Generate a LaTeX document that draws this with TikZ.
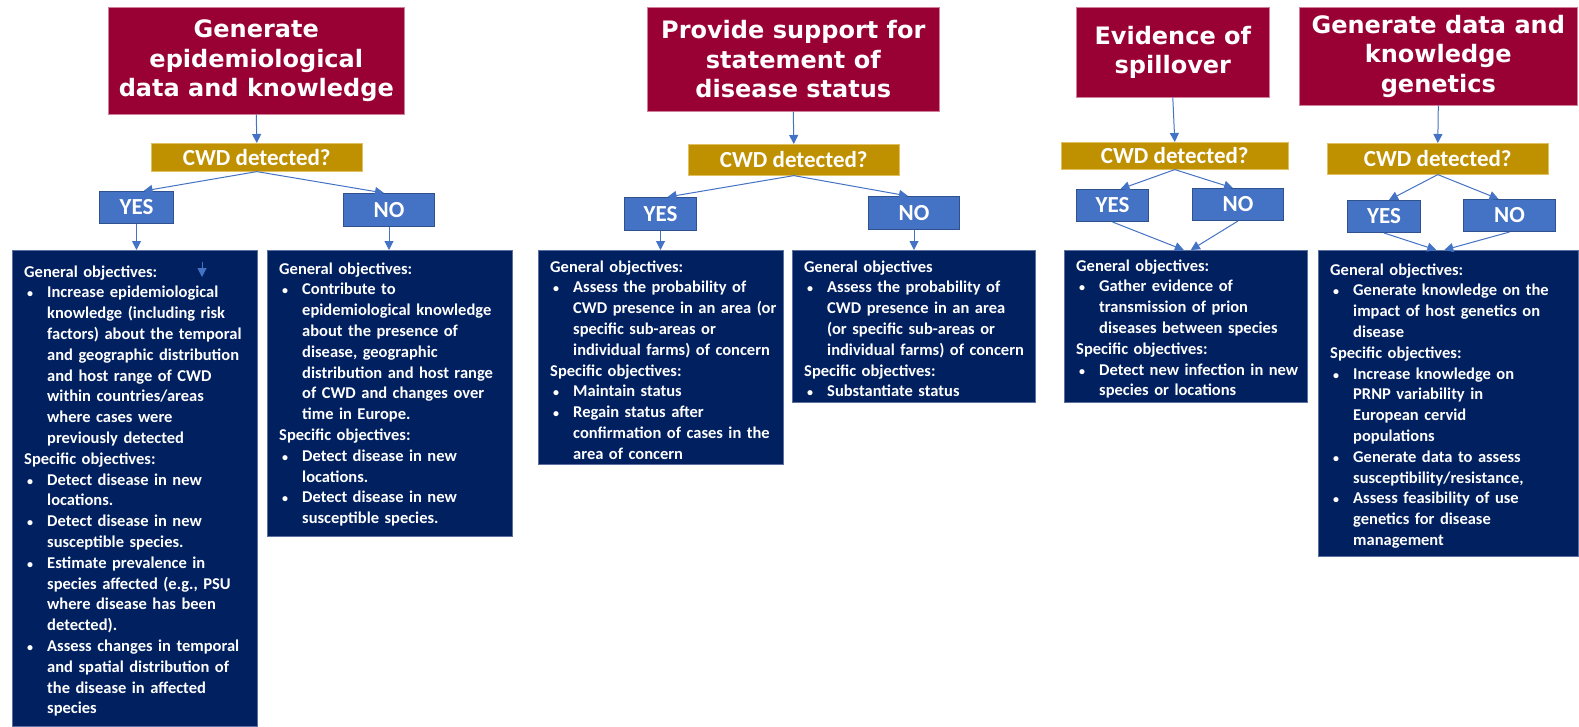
\documentclass[tikz,border=0pt]{standalone}
\usepackage{fontspec}
\setmainfont{Carlito}
\newfontfamily\titlefont{DejaVu Sans}
\usetikzlibrary{arrows.meta,calc}
\definecolor{tred}{HTML}{990033}
\definecolor{tredb}{HTML}{D08098}
\definecolor{gold}{HTML}{BF9000}
\definecolor{goldb}{HTML}{E0C060}
\definecolor{ynblue}{HTML}{4472C4}
\definecolor{ynborder}{HTML}{2F528F}
\definecolor{navy}{HTML}{002060}
\definecolor{navyb}{HTML}{5A70A0}
\definecolor{arrblue}{HTML}{4472C4}
\newcommand\hd[1]{\noindent #1\par}
\newcommand\bl[1]{\noindent\hangindent=23pt\hangafter=1\makebox[23pt][l]{\hspace{3pt}{\fontsize{12}{12}\selectfont•}}#1\par}
\tikzset{
 titlebox/.style={fill=tred, draw=tredb, line width=0.6pt, text=white,
   font=\titlefont\bfseries\fontsize{24}{29.5}\selectfont, align=center, inner sep=0, anchor=north west},
 cwdbox/.style={fill=gold, draw=goldb, line width=0.6pt, text=white,
   font=\bfseries\fontsize{23}{27}\selectfont, inner sep=0, anchor=north west},
 ynbox/.style={fill=ynblue, draw=ynborder, line width=1pt, text=white,
   font=\bfseries\fontsize{23}{26}\selectfont, inner sep=0, anchor=north west},
 objbox/.style={fill=navy, draw=navyb, line width=0.6pt, inner sep=0, anchor=north west},
 objtext/.style={text=white, font=\bfseries\fontsize{16.5}{20.8}\selectfont,
   text width=250pt, inner sep=0, anchor=base west},
 arr/.style={draw=arrblue, line width=1pt, -{Triangle[length=9pt,width=9pt]}},
}
\begin{document}
\begin{tikzpicture}[x=1pt,y=-1pt]
\fill[white] (0,0) rectangle (1579,726);
\useasboundingbox (0,0) rectangle (1579,726);

% ---------- group 1
\node[titlebox, minimum width=296pt, minimum height=107pt] (t1) at (108,7)
  {Generate\\epidemiological\\data and knowledge};
\node[cwdbox, minimum width=211pt, minimum height=28pt] (c1) at (151,143) {CWD detected?};
\node[ynbox, minimum width=74pt, minimum height=32pt] (y1) at (99,191) {YES};
\node[ynbox, minimum width=91pt, minimum height=33pt] (n1) at (343,193) {NO};
\node[objbox, minimum width=245pt, minimum height=476pt] (b1) at (12,250) {};
\node[objbox, minimum width=245pt, minimum height=286pt] (b2) at (267,250) {};

% ---------- group 2
\node[titlebox, minimum width=292pt, minimum height=104pt] (t2) at (647,7)
  {Provide support for\\statement of\\disease status};
\node[cwdbox, minimum width=211pt, minimum height=31pt] (c2) at (688,144) {CWD detected?};
\node[ynbox, minimum width=72pt, minimum height=33pt] (y2) at (624,197) {YES};
\node[ynbox, minimum width=91pt, minimum height=33pt] (n2) at (868,196) {NO};
\node[objbox, minimum width=245pt, minimum height=214pt] (b3) at (538,250) {};
\node[objbox, minimum width=243pt, minimum height=152pt] (b4) at (792,250) {};

% ---------- group 3
\node[titlebox, minimum width=193pt, minimum height=90pt] (t3) at (1076,7)
  {Evidence of\\spillover};
\node[cwdbox, minimum width=227pt, minimum height=27pt] (c3) at (1061,142) {CWD detected?};
\node[ynbox, minimum width=72pt, minimum height=32pt] (y3) at (1076,189) {YES};
\node[ynbox, minimum width=91pt, minimum height=32pt] (n3) at (1192,188) {NO};
\node[objbox, minimum width=243pt, minimum height=152pt] (b5) at (1064,250) {};

% ---------- group 4
\node[titlebox, minimum width=278pt, minimum height=98pt] (t4) at (1299,7)
  {Generate data and\\knowledge\\genetics};
\node[cwdbox, minimum width=221pt, minimum height=31pt] (c4) at (1327,143) {CWD detected?};
\node[ynbox, minimum width=73pt, minimum height=32pt] (y4) at (1347,200) {YES};
\node[ynbox, minimum width=92pt, minimum height=32pt] (n4) at (1463,199) {NO};
\node[objbox, minimum width=260pt, minimum height=306pt] (b6) at (1318,250) {};

% ---------- texts
\node[objtext] (x1) at ($(b1.north west)+(12,27)$) {%
\hd{General objectives:}%
\bl{Increase epidemiological\newline knowledge (including risk\newline factors) about the temporal\newline and geographic distribution\newline and host range of CWD\newline within countries/areas\newline where cases were\newline previously detected}%
\hd{Specific objectives:}%
\bl{Detect disease in new\newline locations.}%
\bl{Detect disease in new\newline susceptible species.}%
\bl{Estimate prevalence in\newline species affected (e.g., PSU\newline where disease has been\newline detected).}%
\bl{Assess changes in temporal\newline and spatial distribution of\newline the disease in affected\newline species}};

\node[objtext] (x2) at ($(b2.north west)+(12,24)$) {%
\hd{General objectives:}%
\bl{Contribute to\newline epidemiological knowledge\newline about the presence of\newline disease, geographic\newline distribution and host range\newline of CWD and changes over\newline time in Europe.}%
\hd{Specific objectives:}%
\bl{Detect disease in new\newline locations.}%
\bl{Detect disease in new\newline susceptible species.}};

\node[objtext] (x3) at ($(b3.north west)+(12,22)$) {%
\hd{General objectives:}%
\bl{Assess the probability of\newline CWD presence in an area (or\newline specific sub-areas or\newline individual farms) of concern}%
\hd{Specific objectives:}%
\bl{Maintain status}%
\bl{Regain status after\newline confirmation of cases in the\newline area of concern}};

\node[objtext] (x4) at ($(b4.north west)+(12,22)$) {%
\hd{General objectives}%
\bl{Assess the probability of\newline CWD presence in an area\newline (or specific sub-areas or\newline individual farms) of concern}%
\hd{Specific objectives:}%
\bl{Substantiate status}};

\node[objtext] (x5) at ($(b5.north west)+(12,21)$) {%
\hd{General objectives:}%
\bl{Gather evidence of\newline transmission of prion\newline diseases between species}%
\hd{Specific objectives:}%
\bl{Detect new infection in new\newline species or locations}};

\node[objtext] (x6) at ($(b6.north west)+(12,25)$) {%
\hd{General objectives:}%
\bl{Generate knowledge on the\newline impact of host genetics on\newline disease}%
\hd{Specific objectives:}%
\bl{Increase knowledge on\newline PRNP variability in\newline European cervid\newline populations}%
\bl{Generate data to assess\newline susceptibility/resistance,}%
\bl{Assess feasibility of use\newline genetics for disease\newline management}};

% ---------- connectors
\draw[arr] (t1.south) -- (c1.north);
\draw[arr] (c1.south) -- ($(y1.north)+(7,0)$);
\draw[arr] (c1.south) -- ($(n1.north)+(-5,0)$);
\draw[arr] (y1.south) -- (y1.south |- b1.north);
\draw[arr] (n1.south) -- (n1.south |- b2.north);

\draw[arr] (t2.south) -- (c2.north);
\draw[arr] (c2.south) -- ($(y2.north)+(7,0)$);
\draw[arr] (c2.south) -- ($(n2.north)+(-6,0)$);
\draw[arr] (y2.south) -- (y2.south |- b3.north);
\draw[arr] (n2.south) -- (n2.south |- b4.north);

\draw[arr] (t3.south) -- (c3.north);
\draw[arr] (c3.south) -- ($(y3.north)+(8,0)$);
\draw[arr] (c3.south) -- ($(n3.north)+(-5,0)$);
\draw[arr] (y3.south) -- ($(b5.north)+(-2,0)$);
\draw[arr] (n3.south) -- ($(b5.north)+(5,0)$);

\draw[arr] (t4.south) -- (c4.north);
\draw[arr] (c4.south) -- ($(y4.north)+(5,0)$);
\draw[arr] (c4.south) -- ($(n4.north)+(-11,0)$);
\draw[arr] (y4.south) -- ($(b6.north)+(-12,0)$);
\draw[arr] (n4.south) -- ($(b6.north)+(-4,0)$);

% stray small arrow inside box 1
\coordinate (s1) at (202,262);
\coordinate (s2) at (202,277);
\draw[arr] (s1) -- (s2);
\end{tikzpicture}
\end{document}
